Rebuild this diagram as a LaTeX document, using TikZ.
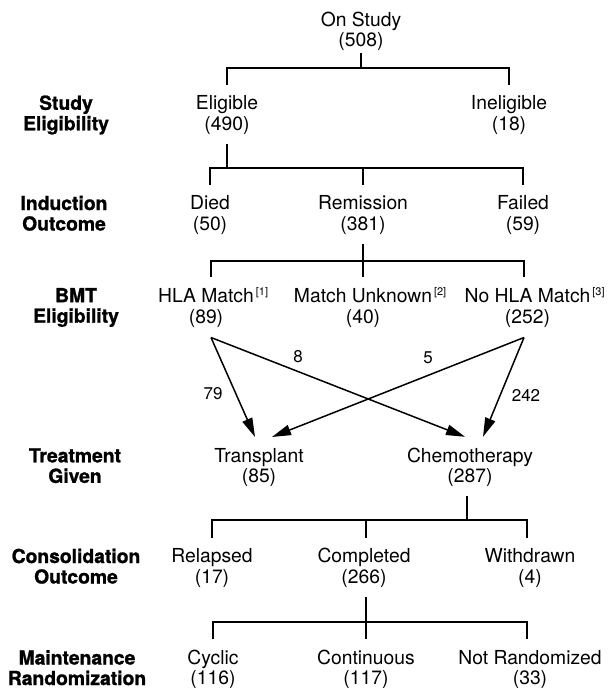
\documentclass[tikz,border=0pt]{standalone}
\usepackage{fontspec}
\setmainfont{TeX Gyre Heros}
\newfontfamily\heavyfont[FakeBold=1.2]{TeX Gyre Heros Bold}
\usetikzlibrary{arrows.meta}
\newcommand{\supmark}[1]{\rlap{\kern2pt\raisebox{7pt}{\fontsize{11}{11}\selectfont[#1]}}}
\begin{document}
\begin{tikzpicture}[x=1pt,y=-1pt,
  txt/.style={font=\fontsize{19.3}{20.5}\selectfont, align=center, inner sep=0pt,
    execute at begin node=\vphantom{(}, execute at end node=\vphantom{(}},
  lbl/.style={txt, font=\fontsize{19.3}{20.5}\selectfont\heavyfont\bfseries},
  num/.style={font=\fontsize{17}{17}\selectfont, inner sep=0pt},
  tree/.style={line width=1.5pt},
  arr/.style={line width=1.5pt, -{Triangle[length=19pt,width=10.5pt]}},
]
\useasboundingbox (0,0) rectangle (613,688);

% row labels
\node[lbl] (lab1) at (66,115) {Study\\Eligibility};
\node[lbl] (lab2) at (64,215) {Induction\\Outcome};
\node[lbl] (lab3) at (76,307.5) {BMT\\Eligibility};
\node[lbl] (lab4) at (75,467.5) {Treatment\\Given};
\node[lbl] (lab5) at (76,568) {Consolidation\\Outcome};
\node[lbl] (lab6) at (77,669.5) {Maintenance\\Randomization};

% nodes
\node[txt] (onstudy) at (361,31.5) {On Study\\(508)};
\node[txt] (eligible) at (227,115) {Eligible\\(490)};
\node[txt] (ineligible) at (509,115) {Ineligible\\(18)};
\node[txt] (died) at (210,215) {Died\\(50)};
\node[txt] (remission) at (363,215) {Remission\\(381)};
\node[txt] (failed) at (523,215) {Failed\\(59)};
\node[txt] (hla) at (206,307.5) {HLA Match\supmark{1}\\(89)};
\node[txt] (unknown) at (363,307.5) {Match Unknown\supmark{2}\\(40)};
\node[txt] (nohla) at (527.5,307.5) {No HLA Match\supmark{3}\\(252)};
\node[txt] (transplant) at (259,467.5) {Transplant\\(85)};
\node[txt] (chemo) at (470,467.5) {Chemotherapy\\(287)};
\node[txt] (relapsed) at (212,568) {Relapsed\\(17)};
\node[txt] (completed) at (364,568) {Completed\\(266)};
\node[txt] (withdrawn) at (530,568) {Withdrawn\\(4)};
\node[txt] (cyclic) at (213,669.5) {Cyclic\\(116)};
\node[txt] (continuous) at (366,669.5) {Continuous\\(117)};
\node[txt] (notrand) at (530,669.5) {Not Randomized\\(33)};

% junctions
\coordinate (j1) at (361,68);
\coordinate (j2) at (227,168);
\coordinate (j3) at (363,261);
\coordinate (j4) at (467,520);
\coordinate (j5) at (366,622);

% tree connectors
\draw[tree] ([yshift=-2pt]onstudy.south) -- (j1);
\draw[tree] ([yshift=10.5pt]eligible.north) |- (j1) -| ([yshift=10.5pt]ineligible.north);

\draw[tree] ([yshift=-9pt]eligible.south) -- (j2);
\draw[tree] ([yshift=10.5pt]died.north) |- (j2) -| ([yshift=10.5pt]failed.north);
\draw[tree] ([yshift=10.5pt]remission.north) -- ++(0,-17.5);

\draw[tree] ([yshift=-9pt]remission.south) -- ([yshift=10.5pt]unknown.north);
\draw[tree] ([xshift=5pt,yshift=10.5pt]hla.north) |- (j3) -| ([xshift=-3.5pt,yshift=10.5pt]nohla.north);

\draw[tree] ([xshift=-3pt,yshift=-9pt]chemo.south) -- (j4);
\draw[tree] ([yshift=10.5pt]relapsed.north) |- (j4) -| ([xshift=-3pt,yshift=10.5pt]withdrawn.north);
\draw[tree] ([xshift=2pt,yshift=10.5pt]completed.north) -- ++(0,-17.5);

\draw[tree] ([xshift=2pt,yshift=-9pt]completed.south) -- (j5);
\draw[tree] ([yshift=10.5pt]cyclic.north) |- (j5) -| ([xshift=-3pt,yshift=10.5pt]notrand.north);
\draw[tree] (j5) -- ([yshift=10.5pt]continuous.north);

% crossing arrows
\coordinate (hlaout) at ([xshift=5pt,yshift=-10pt]hla.south);
\coordinate (nohlaout) at ([xshift=-3.5pt,yshift=-10pt]nohla.south);
\coordinate (tin1) at ([xshift=-4pt,yshift=11pt]transplant.north);
\coordinate (tin2) at ([xshift=13pt,yshift=11pt]transplant.north);
\coordinate (cin1) at ([xshift=-5pt,yshift=11pt]chemo.north);
\coordinate (cin2) at ([xshift=13pt,yshift=11pt]chemo.north);
\draw[arr] (hlaout) -- (tin1);
\draw[arr] (hlaout) -- (cin1);
\draw[arr] (nohlaout) -- (tin2);
\draw[arr] (nohlaout) -- (cin2);

\node[num] (n79) at (213,394) {79};
\node[num] (n8) at (298,357) {8};
\node[num] (n5) at (428,358) {5};
\node[num] (n242) at (526,395) {242};
\end{tikzpicture}
\end{document}
